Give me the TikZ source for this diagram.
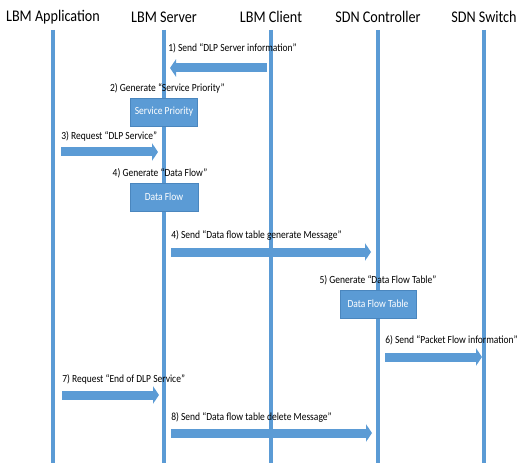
\documentclass[tikz,border=0pt]{standalone}
\usepackage{fontspec}
\setmainfont[FakeStretch=0.87]{Carlito}
\usepackage{tikz}
\usetikzlibrary{arrows.meta,positioning}
\definecolor{lineblue}{HTML}{5B9BD5}
\definecolor{edgeblue}{HTML}{4A86BE}

\begin{document}
\begin{tikzpicture}[x=0.75pt,y=-0.75pt,
	title/.style={font=\fontsize{12.2}{14}\selectfont, inner sep=0pt},
	life/.style={draw=lineblue, line width=3pt},
	box/.style={fill=lineblue, draw=edgeblue, line width=0.5pt, text=white, font=\fontsize{8.2}{9}\selectfont, minimum height=21pt, inner sep=0pt},
	lbl/.style={font=\fontsize{8.2}{9}\selectfont, inner sep=0pt},
	msg/.style={draw=lineblue, line width=6.75pt, -{Triangle[length=4.5pt, width=13pt]}}]
	\useasboundingbox (0,0) rectangle (517,463);
	
	\foreach \n/\t/\x in {app/LBM Application/53, srv/LBM Server/164, cli/LBM Client/271, ctl/SDN Controller/378, sw/SDN Switch/484} {
		\node (\n) [title] at (\x,17) {\t};
		\draw [life] (\x,30) -- (\x,463);
	}
	
	\node (sp) [box, minimum width=50pt] at (164,112) {Service Priority};
	\node (g2) [lbl, above=3pt of sp, xshift=2.5pt] {2) Generate “Service Priority”};
	\node (df) [box, minimum width=51pt] at (164,197) {Data Flow};
	\node (g4) [lbl, above=3pt of df, xshift=-3pt] {4) Generate “Data Flow”};
	\node (dft) [box, minimum width=57pt] at (378,304) {Data Flow Table};
	\node (g5) [lbl, above=3pt of dft] {5) Generate “Data Flow Table”};
	
	\coordinate (m1a) at (267,68);
	\coordinate (m1b) at (170,68);
	\draw [msg] (m1a) -- (m1b);
	\node (t1) [lbl, anchor=west] at (168,48) {1) Send “DLP Server information”};
	
	\coordinate (m3a) at (61,152);
	\coordinate (m3b) at (158,152);
	\draw [msg] (m3a) -- (m3b);
	\node (t3) [lbl, anchor=west] at (61,136) {3) Request “DLP Service”};
	
	\coordinate (m4a) at (171,252);
	\coordinate (m4b) at (371,252);
	\draw [msg] (m4a) -- (m4b);
	\node (t4) [lbl, anchor=west] at (171,235) {4) Send “Data flow table generate Message”};
	
	\coordinate (m6a) at (385,357);
	\coordinate (m6b) at (482,357);
	\draw [msg] (m6a) -- (m6b);
	\node (t6) [lbl, anchor=west] at (385,340) {6) Send “Packet Flow information”};
	
	\coordinate (m7a) at (62,395);
	\coordinate (m7b) at (159,395);
	\draw [msg] (m7a) -- (m7b);
	\node (t7) [lbl, anchor=west] at (62,379) {7) Request “End of DLP Service”};
	
	\coordinate (m8a) at (171,433);
	\coordinate (m8b) at (372,433);
	\draw [msg] (m8a) -- (m8b);
	\node (t8) [lbl, anchor=west] at (171,417) {8) Send “Data flow table delete Message”};
\end{tikzpicture}
\end{document}
